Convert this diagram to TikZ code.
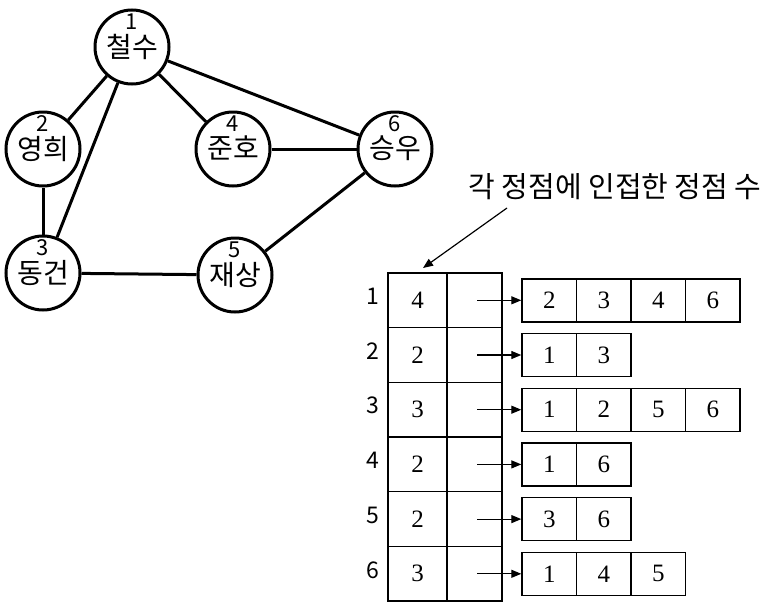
\documentclass[tikz,border=0pt]{standalone}
\usepackage{fontspec}
\setmainfont{Liberation Serif}
\newfontfamily\kor{Noto Sans CJK KR}
\usetikzlibrary{arrows.meta, positioning, calc}

\begin{document}
\begin{tikzpicture}[
    x=0.5pt, y=-0.5pt,
    vert/.style={
        circle,
        draw,
        line width=1.5pt,
        minimum size=37pt,
        inner sep=0pt,
        text depth=1.5pt,
        font=\kor\fontsize{14}{16}\selectfont
    },
    vnum/.style={
        inner sep=0pt,
        font=\kor\fontsize{11}{13}\selectfont
    },
    edge/.style={
        line width=1.5pt
    },
    degcell/.style={
        rectangle,
        draw,
        line width=0.7pt,
        minimum width=29.5pt,
        minimum height=27.35pt,
        inner sep=0pt,
        font=\fontsize{12.5}{14}\selectfont
    },
    ptrcell/.style={
        degcell,
        minimum width=27.5pt
    },
    lcell/.style={
        rectangle,
        draw,
        line width=0.7pt,
        minimum width=27.25pt,
        minimum height=21.5pt,
        inner sep=0pt,
        font=\fontsize{12.5}{14}\selectfont
    },
    rowlab/.style={
        inner sep=0pt,
        font=\kor\fontsize{11.5}{13}\selectfont
    },
    note/.style={
        inner sep=0pt,
        font=\kor\fontsize{14.5}{16}\selectfont
    },
    ptr/.style={
        line width=0.6pt,
        -{Triangle[length=5pt,width=4pt]}
    }
]
\useasboundingbox (0,0) rectangle (780,605);

% Graph
\node[vert] (v1) at (132,47) {철수};
\node[vert] (v2) at (43,149) {영희};
\node[vert] (v3) at (43,273) {동건};
\node[vert] (v4) at (233,149) {준호};
\node[vert] (v5) at (235,275) {재상};
\node[vert] (v6) at (395,149) {승우};
\foreach \i in {1,...,6}
    \node[vnum] (n\i) at ([yshift=12.5pt]v\i.center) {\i};

\draw[edge] (v1) -- (v2);
\draw[edge] (v1) -- (v3);
\draw[edge] (v1) -- (v4);
\draw[edge] (v1) -- (v6);
\draw[edge] (v2) -- (v3);
\draw[edge] (v4) -- (v6);
\draw[edge] (v3) -- (v5);
\draw[edge] (v5) -- (v6);

% Adjacency lists
\foreach \r/\d/\lst [evaluate=\r as \yc using 300.3+(\r-1)*54.7] in
    {1/4/{2,3,4,6}, 2/2/{1,3}, 3/3/{1,2,5,6}, 4/2/{1,6}, 5/2/{3,6}, 6/3/{1,4,5}} {
    \node[rowlab] (r\r) at (373,\yc-4) {\r};
    \node[degcell] (d\r) at (417.5,\yc) {\d};
    \node[ptrcell] (p\r) at (474.5,\yc) {};
    \foreach \v [count=\k] in \lst
        \node[lcell] (l\r-\k) at ({549.25+(\k-1)*54.5},\yc) {\v};
    \coordinate (a\r) at (477,\yc);
    \draw[ptr] (a\r) -- (l\r-1.west);
}

% Note
\node[note] (note) at (615,187) {각 정점에 인접한 정점 수};
\coordinate (tail) at (507,208);
\coordinate (tip) at (423,268);
\draw[ptr] (tail) -- (tip);

\end{tikzpicture}
\end{document}
